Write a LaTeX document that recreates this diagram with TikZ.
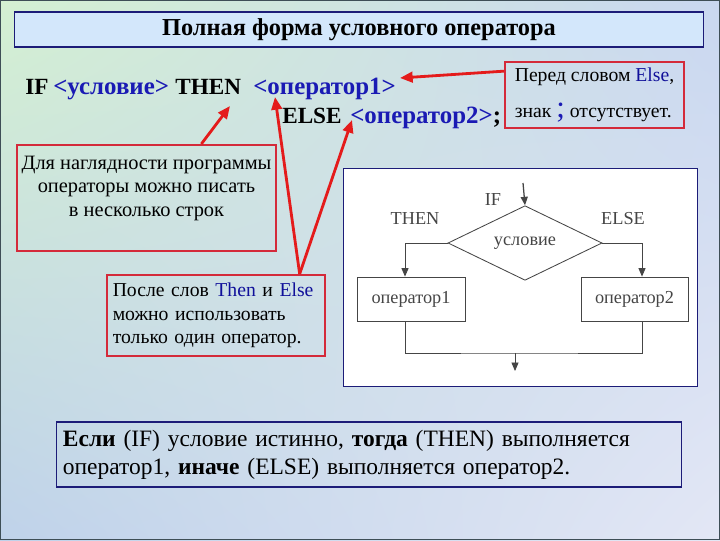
\documentclass[tikz,border=0pt]{standalone}
\usepackage{fontspec}
\setmainfont{Liberation Serif}
\usetikzlibrary{arrows.meta,positioning,shapes.geometric,calc,shadings}
\definecolor{navy}{HTML}{1C1C78}
\definecolor{notered}{HTML}{D42A3A}
\definecolor{arrowred}{HTML}{E41B1B}
\definecolor{kwblue}{HTML}{1A1AB4}
\definecolor{txtblue}{HTML}{10109A}
\definecolor{titlefill}{HTML}{D3E7FB}
\definecolor{flowline}{HTML}{454545}
\definecolor{bgtl}{HTML}{D4F0D2}
\definecolor{bgtr}{HTML}{C9D7F0}
\definecolor{bgbl}{HTML}{BFD2EA}
\definecolor{bgbr}{HTML}{E3E7F5}
\definecolor{slideframe}{HTML}{3E4E56}

\begin{document}
\begin{tikzpicture}[x=0.025cm,y=-0.025cm,
    note/.style={rectangle, draw=notered, line width=1.5pt,
                 font=\fontsize{14.5}{16.7}\selectfont},
    code/.style={font=\fontsize{16.5}{19}\selectfont\bfseries, inner sep=0pt},
    codevar/.style={code, text=kwblue, font=\fontsize{17.7}{19}\selectfont\bfseries},
    pointer/.style={-{Triangle[length=9pt,width=7.5pt]}, line width=2pt, color=arrowred},
    flowbox/.style={rectangle, draw=flowline, line width=0.6pt, minimum width=2.7cm,
                    minimum height=1.1cm, font=\fontsize{13}{15}\selectfont, text=flowline},
    flowarrow/.style={-{Triangle[length=6pt,width=5pt]}, draw=flowline, line width=0.6pt},
    flowlabel/.style={font=\fontsize{13}{15}\selectfont, text=flowline},
]
\useasboundingbox (0,0) rectangle (720,540);

% slide background
\shade[upper left=bgtl, upper right=bgtr, lower left=bgbl, lower right=bgbr]
    (0,0) rectangle (720,540);
\draw[slideframe, line width=1.2pt] (0.5,0.5) rectangle (719.5,539.5);

\node[draw=navy, line width=0.8pt, fill=titlefill, minimum width=17.2cm, minimum height=0.875cm,
      font=\fontsize{17.3}{19}\selectfont\bfseries] (title) at (359,29.5) {Полная форма условного оператора};

% the operator written in two lines
\node[code, anchor=base west] (kwif) at (25,94) {IF};
\node[codevar, anchor=base west] (ifcond) at (53,94) {<условие>};
\node[code, anchor=base west] (kwthen) at (175,94) {THEN};
\node[codevar, anchor=base west] (ifop1) at (253,94) {<оператор1>};
\node[code, anchor=base west] (kwelse) at (282,123) {ELSE};
\node[codevar, anchor=base west] (ifop2) at (350,123) {<оператор2>\textcolor{black}{;}};

\coordinate (thenpt) at (230,106);
\coordinate (op1pt) at (275,97);
\coordinate (op2pt) at (352,120);
\coordinate (op1end) at (400,78);

% flowchart
\node[draw=navy, line width=0.6pt, fill=white, minimum width=8.85cm, minimum height=5.45cm] (chart) at (520,277) {};
\node[diamond, draw=flowline, line width=0.6pt, minimum width=3.85cm, minimum height=1.7cm, inner sep=0pt,
      font=\fontsize{13}{15}\selectfont, text=flowline] (test) at (525,243) {условие};
\node[flowbox] (op1box) at (411,299) {оператор1};
\node[flowbox, minimum width=2.675cm] (op2box) at (634.5,299) {оператор2};
\node[flowlabel] (iflbl) at (493,200) {IF};
\node[flowlabel] (thenlbl) at (415,219) {THEN};
\node[flowlabel] (elselbl) at (623,219) {ELSE};

\coordinate (inpt) at (523,183);
\coordinate (merge) at (515,353);
\coordinate (outpt) at (515,371);
\draw[flowarrow, line width=0.9pt] (inpt) -- (test.north);
\draw[flowarrow] (test.west) -| ($(op1box.north)+(-6,0)$);
\draw[flowarrow] (test.east) -| ($(op2box.north)+(7.5,0)$);
\draw[flowline, line width=0.6pt] ($(op1box.south)+(-6,0)$) |- (merge) -| ($(op2box.south)+(7.5,0)$);
\draw[flowarrow] (merge) -- (outpt);

% notes
\node[note, font=\fontsize{14}{16}\selectfont, minimum width=4.475cm, minimum height=1.65cm,
      align=left] (elsenote) at (594.5,95)
    {Перед словом \textcolor{txtblue}{Else},\\[10pt]знак \textcolor{kwblue}{\fontsize{22}{22}\selectfont;} отсутствует.};
\node[note, minimum width=6.475cm, minimum height=2.65cm, align=center] (layout) at (146.5,198)
    {Для наглядности программы\\операторы можно писать\\в несколько строк\\\mbox{}};
\node[note, font=\fontsize{14}{16.7}\selectfont, minimum width=5.45cm, minimum height=2.025cm,
      inner xsep=4pt, text width=5.16cm, align=left] (afternote) at (216,315.5)
    {После слов \textcolor{txtblue}{Then} и \textcolor{txtblue}{Else}\\можно использовать\\только один оператор.};

\draw[pointer] ($(elsenote.north west)!0.15!(elsenote.south west)$) -- (op1end);
\draw[pointer] ($(layout.north west)!0.71!(layout.north east)$) -- (thenpt);
\draw[pointer] ($(afternote.north west)!0.88!(afternote.north east)$) -- (op1pt);
\draw[pointer] ($(afternote.north west)!0.88!(afternote.north east)$) -- (op2pt);

\node[draw=navy, line width=0.8pt, minimum width=15.6cm, minimum height=1.625cm, inner xsep=0.15cm,
      text width=15.3cm, align=left, font=\fontsize{16.7}{19.8}\selectfont] (summary) at (369,454.5)
    {\textbf{Если} (IF) условие истинно, \textbf{тогда} (THEN) выполняется\\оператор1, \textbf{иначе} (ELSE) выполняется оператор2.};

\end{tikzpicture}
\end{document}
